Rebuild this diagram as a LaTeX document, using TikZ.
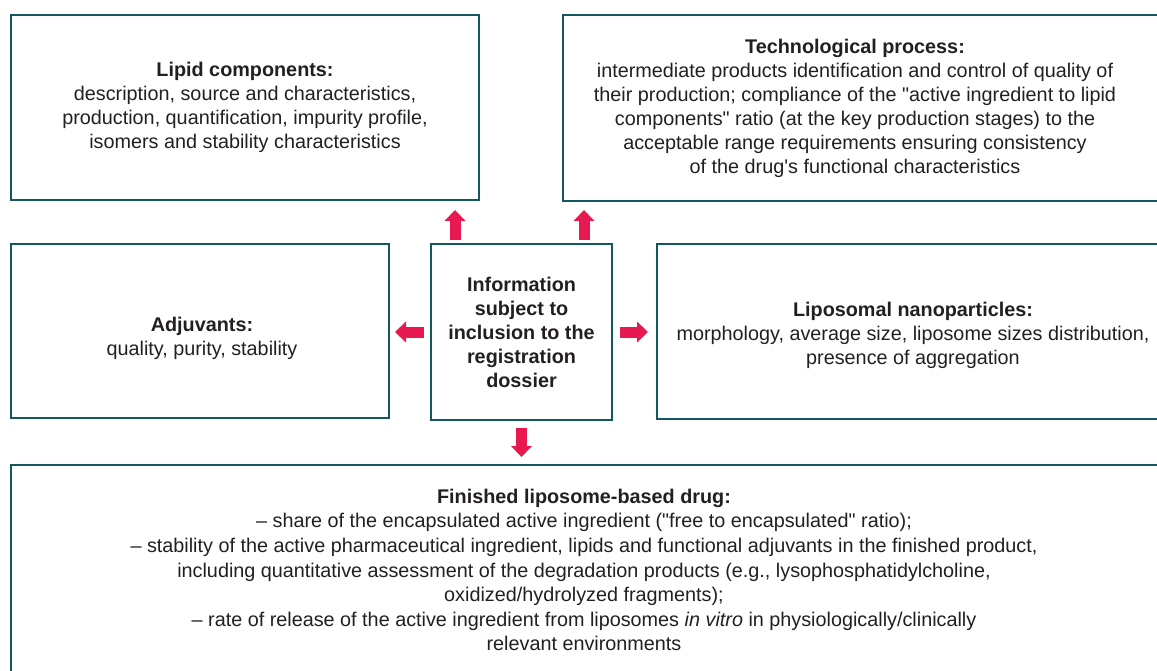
\documentclass[tikz,border=0pt]{standalone}
\usepackage{fontspec}
\setmainfont{Liberation Sans}[Ligatures=TeXOff]
\usetikzlibrary{arrows.meta,positioning,fit}

\definecolor{frameteal}{RGB}{18,88,92}
\definecolor{arrowpink}{RGB}{232,24,80}
\definecolor{textgray}{RGB}{35,31,32}

\tikzset{
  frame/.style={draw=frameteal, line width=2.4pt, inner sep=0pt, outer sep=0pt},
  txt/.style={align=center, text=textgray, inner sep=0pt,
    font=\fontsize{19.8}{24}\selectfont},
  blockarrow/.style={draw=arrowpink, line width=11pt,
    -{Triangle[length=11pt,width=21pt,line width=0pt]}}
}

\begin{document}
\begin{tikzpicture}[x=1pt,y=-1pt]
    \useasboundingbox (0,0) rectangle (1157,671);
    \clip (0,0) rectangle (1157,671);

    % Boxes
    \node[frame, fit={(11,15) (479,200)}] (lipid) {};
    \node[frame, fit={(563,15) (1180,201)}] (tech) {};
    \node[frame, fit={(11,244) (389,418)}] (adjuv) {};
    \node[frame, fit={(431,244) (612,420)}] (info) {};
    \node[frame, fit={(657,244) (1180,419)}] (lipo) {};
    \node[frame, fit={(11,465) (1180,700)}] (finished) {};

    % Texts
    \node[txt] (lipidtxt) at (lipid.center) {\textbf{Lipid components:}\\
      description, source and characteristics,\\
      production, quantification, impurity profile,\\
      isomers and stability characteristics};
    \node[txt] (techtxt) at (855,108) {\textbf{Technological process:}\\
      intermediate products identification and control of quality of\\
      their production; compliance of the "active ingredient to lipid\\
      components" ratio (at the key production stages) to the\\
      acceptable range requirements ensuring consistency\\
      of the drug's functional characteristics};
    \node[txt] (adjuvtxt) at (202,338) {\textbf{Adjuvants:}\\
      quality, purity, stability};
    \node[txt] (infotxt) at (info.center) {\textbf{Information}\\
      \textbf{subject to}\\ \textbf{inclusion to the}\\
      \textbf{registration}\\ \textbf{dossier}};
    \node[txt] (lipotxt) at (913,335) {\textbf{Liposomal nanoparticles:}\\
      morphology, average size, liposome sizes distribution,\\
      presence of aggregation};
    \node[txt, font=\fontsize{19.8}{24.6}\selectfont] (finishedtxt) at (584,570)
      {\textbf{Finished liposome-based drug:}\\
      \textendash{} share of the encapsulated active ingredient ("free to encapsulated" ratio);\\
      \textendash{} stability of the active pharmaceutical ingredient, lipids and functional adjuvants in the finished product,\\
      including quantitative assessment of the degradation products (e.g., lysophosphatidylcholine,\\
      oxidized/hydrolyzed fragments);\\
      \textendash{} rate of release of the active ingredient from liposomes \textit{in vitro} in physiologically/clinically\\
      relevant environments};

    % Arrows
    \coordinate (upleft) at (455,0);
    \coordinate (upright) at (584,0);
    \draw[blockarrow, shorten <=4pt, shorten >=10pt] (info.north -| upleft) -- (lipid.south -| upleft);
    \draw[blockarrow, shorten <=4pt, shorten >=9pt] (info.north -| upright) -- (tech.south -| upright);
    \draw[blockarrow, shorten <=7pt, shorten >=6pt] (info.west) -- (adjuv.east |- info.west);
    \draw[blockarrow, shorten <=8pt, shorten >=9pt] (info.east) -- (lipo.west |- info.east);
    \draw[blockarrow, shorten <=8pt, shorten >=8pt] (info.south) -- (finished.north -| info.south);
\end{tikzpicture}
\end{document}
